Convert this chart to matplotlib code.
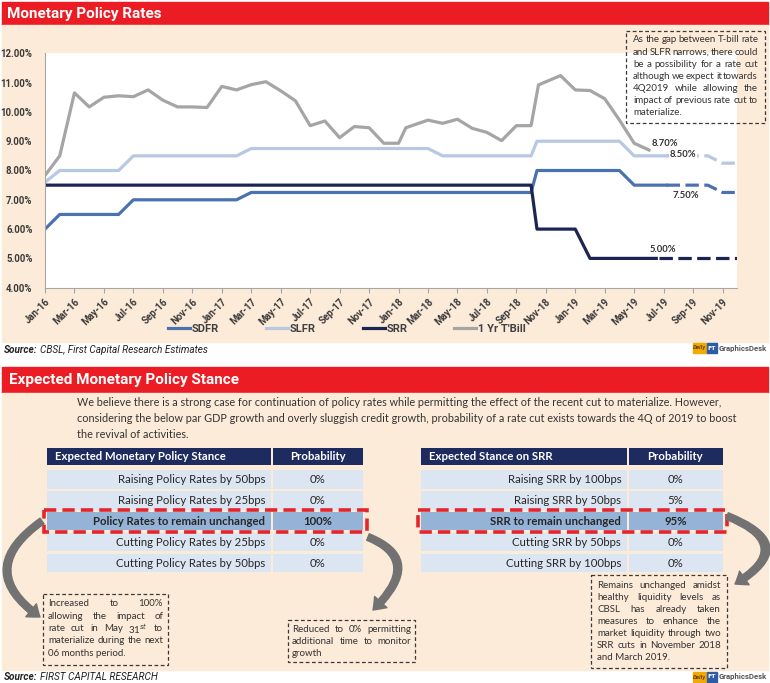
import numpy as np
import matplotlib
matplotlib.use("Agg")
import matplotlib.pyplot as plt
from matplotlib.patches import Rectangle, FancyArrowPatch
from matplotlib.path import Path
from matplotlib import font_manager

# fonts: a narrow face for the headings / axes, a humanist face for body text
fl = font_manager.fontManager.ttflist
names = {f.name for f in fl}
if any(f.name == 'Noto Sans' and f.stretch == 'condensed' for f in fl):
    NARROW, STR = 'Noto Sans', 'condensed'
else:
    NARROW, STR = ('Roboto' if 'Roboto' in names else 'DejaVu Sans'), 'normal'
BODY = 'Lato' if 'Lato' in names else 'DejaVu Sans'
NF = dict(family=NARROW, stretch=STR)

# ---- data (x = months since Jan-16) ----
tick_labels = ['Jan-16', 'Mar-16', 'May-16', 'Jul-16', 'Sep-16', 'Nov-16',
               'Jan-17', 'Mar-17', 'May-17', 'Jul-17', 'Sep-17', 'Nov-17',
               'Jan-18', 'Mar-18', 'May-18', 'Jul-18', 'Sep-18', 'Nov-18',
               'Jan-19', 'Mar-19', 'May-19', 'Jul-19', 'Sep-19', 'Nov-19']

sdfr_x = [0, 1, 5, 6, 13, 14, 33, 33.4, 39, 40, 42.2]
sdfr_y = [6.0, 6.5, 6.5, 7.0, 7.0, 7.25, 7.25, 8.0, 8.0, 7.5, 7.5]
sdfr_fx = [42.2, 45, 46, 47]
sdfr_fy = [7.5, 7.5, 7.25, 7.25]

slfr_x = [0, 1, 5, 6, 13, 14, 26, 27, 33, 33.4, 39, 40, 42.2]
slfr_y = [7.6, 8.0, 8.0, 8.5, 8.5, 8.75, 8.75, 8.5, 8.5, 9.0, 9.0, 8.5, 8.5]
slfr_fx = [42.2, 45, 46, 47]
slfr_fy = [8.5, 8.5, 8.25, 8.25]

srr_x = [0, 33, 33.4, 36, 37, 41.5]
srr_y = [7.5, 7.5, 6.0, 6.0, 5.0, 5.0]
srr_fx = [41.7, 47]
srr_fy = [5.0, 5.0]

tbill_x = [0, 1, 2, 3, 4, 5, 6, 7, 8, 9, 10, 11, 12, 13, 14, 15, 16, 17, 18, 19,
           20, 21, 22, 23, 24, 24.5, 26, 27, 28, 29, 30, 31, 32, 33, 33.5, 35,
           36, 37, 38, 39, 40, 41]
tbill_y = [7.83, 8.5, 10.65, 10.17, 10.5, 10.55, 10.52, 10.75, 10.4, 10.17,
           10.17, 10.15, 10.87, 10.75, 10.93, 11.03, 10.72, 10.38, 9.53, 9.69,
           9.12, 9.5, 9.46, 8.93, 8.93, 9.46, 9.72, 9.61, 9.75, 9.44, 9.3, 9.02,
           9.53, 9.53, 10.92, 11.24, 10.75, 10.73, 10.45, 9.72, 8.93, 8.7]

left_head = ['Expected Monetary Policy Stance', 'Probability']
left_rows = ['Raising Policy Rates by 50bps', 'Raising Policy Rates by 25bps',
             'Policy Rates to remain unchanged', 'Cutting Policy Rates by 25bps',
             'Cutting Policy Rates by 50bps']
left_prob = ['0%', '0%', '100%', '0%', '0%']

right_head = ['Expected Stance on SRR', 'Probability']
right_rows = ['Raising SRR by 100bps', 'Raising SRR by 50bps', 'SRR to remain unchanged',
              'Cutting SRR by 50bps', 'Cutting SRR by 100bps']
right_prob = ['0%', '5%', '95%', '0%', '0%']

intro = ['We believe there is a strong case for continuation of policy rates while permitting the effect of the recent cut to materialize. However,',
         'considering the below par GDP growth and overly sluggish credit growth, probability of a rate cut exists towards the 4Q of 2019 to boost',
         'the revival of activities.']
note_chart = ['As the gap between T-bill rate', 'and SLFR narrows, there could',
              'be a possibility for a rate cut', 'although we expect it towards',
              '4Q2019 while allowing the', 'impact of previous rate cut to', 'materialize.']
note_left = ['Increased to 100%', 'allowing the impact of', 'rate cut in May 31$^{st}$ to',
             'materialize during the next', '06 months period.']
note_mid = ['Reduced to 0% permitting', 'additional time to monitor', 'growth']
note_right = ['Remains unchanged amidst', 'healthy liquidity levels as', 'CBSL has already taken',
              'measures to enhance the', 'market liquidity through two', 'SRR cuts in November 2018',
              'and March 2019.']

RED = '#ec1c24'
BEIGE = '#fdebd9'
C_SDFR, C_SLFR, C_SRR, C_TB = '#4a72b0', '#b7c9e2', '#1b2452', '#a5a5a5'
TXT = '#333333'

W, H = 770, 683
fig = plt.figure(figsize=(W / 100, H / 100), dpi=100)
fig.patch.set_facecolor('white')
r = fig.canvas.get_renderer()


def frac(x0, y0, x1, y1):
    return [x0 / W, 1 - y1 / H, (x1 - x0) / W, (y1 - y0) / H]


# background layer in pixel units
bg = fig.add_axes([0, 0, 1, 1], zorder=0)
bg.set_xlim(0, W)
bg.set_ylim(H, 0)
bg.axis('off')
bg.add_patch(Rectangle((2, 2), 766, 23, color=RED))
bg.add_patch(Rectangle((2, 25), 766, 317, color=BEIGE))
bg.add_patch(Rectangle((2, 367), 766, 26, color=RED))
bg.add_patch(Rectangle((2, 393), 766, 277, color=BEIGE))
bg.text(7, 14, 'Monetary Policy Rates', color='white', fontsize=11, weight='bold',
        va='center', **NF)
bg.text(9, 380, 'Expected Monetary Policy Stance', color='white', fontsize=11, weight='bold',
        va='center', **NF)
for k, line in enumerate(intro):
    bg.text(77, 403 + k * 15.5, line, fontsize=7.8, family=BODY, color=TXT, va='center')


def source(y, rest):
    t = bg.text(4, y, 'Source:', fontsize=7.2, weight='bold', style='italic',
                color='#222222', va='center', **NF)
    w = t.get_window_extent(r).width
    bg.text(4 + w + 3, y, rest, fontsize=7.2, style='italic', color='#222222',
            va='center', **NF)


def logo(y):
    bg.add_patch(Rectangle((693, y - 5), 14, 10, color='#f2a900'))
    bg.text(700, y, 'Daily', fontsize=3.3, color='#6b3d00', ha='center', va='center',
            weight='bold', style='italic')
    bg.add_patch(Rectangle((707, y - 5), 10, 10, color='#2d5ca6'))
    bg.text(712, y, 'FT', fontsize=4.5, color='white', ha='center', va='center', weight='bold')
    bg.text(719, y, 'GraphicsDesk', fontsize=5.6, weight='bold', color='#555555',
            va='center', **NF)


source(350, 'CBSL, First Capital Research Estimates')
source(677, 'FIRST CAPITAL RESEARCH')
logo(348)
logo(677)

# ---- line chart ----
ax = fig.add_axes(frac(45, 53.3, 737.3, 287.7), zorder=1)
ax.set_facecolor('white')
lw = 2.3
dash = (0, (4.2, 1.7))
l1, = ax.plot(sdfr_x, sdfr_y, color=C_SDFR, lw=lw)
ax.plot(sdfr_fx, sdfr_fy, color=C_SDFR, lw=lw, ls=dash)
l2, = ax.plot(slfr_x, slfr_y, color=C_SLFR, lw=lw)
ax.plot(slfr_fx, slfr_fy, color=C_SLFR, lw=lw, ls=dash)
l3, = ax.plot(srr_x, srr_y, color=C_SRR, lw=lw)
ax.plot(srr_fx, srr_fy, color=C_SRR, lw=lw, ls=dash)
l4, = ax.plot(tbill_x, tbill_y, color=C_TB, lw=lw)

ax.set_xlim(0, 47)
ax.set_ylim(4, 12)
ax.set_yticks(np.arange(4, 12.5, 1))
ax.set_yticklabels([f'{v:.2f}%' for v in np.arange(4, 12.5, 1)])
ax.set_xticks(np.arange(0, 47, 2))
ax.set_xticklabels(tick_labels, rotation=45, ha='right', va='top', rotation_mode='anchor')
ax.tick_params(axis='x', length=3.5, color='#a6a6a6', width=0.8, pad=3)
ax.tick_params(axis='y', length=0, pad=9)
for lbl in ax.get_xticklabels() + ax.get_yticklabels():
    lbl.set_fontfamily(NARROW)
    lbl.set_fontstretch(STR)
    lbl.set_fontweight('bold')
    lbl.set_fontsize(6.9)
    lbl.set_color('#3a3a3a')
for s in ['top', 'right']:
    ax.spines[s].set_visible(False)
for s in ['left', 'bottom']:
    ax.spines[s].set_color('#a6a6a6')
    ax.spines[s].set_linewidth(0.8)

lab = dict(fontsize=6.8, family=BODY, weight='bold', color=TXT, va='center')
ax.text(41.2, 8.93, '8.70%', ha='left', **lab)
ax.text(43.3, 8.53, '8.50%', ha='center', bbox=dict(fc='white', ec='none', pad=0.6), **lab)
ax.text(43.5, 7.13, '7.50%', ha='center', **lab)
ax.text(41.95, 5.31, '5.00%', ha='center', **lab)

leg = fig.legend([l1, l2, l3, l4], ['SDFR', 'SLFR', 'SRR', "1 Yr T'Bill"], ncol=4,
                 loc='center', bbox_to_anchor=(347 / W, 1 - 329 / H), frameon=False,
                 handlelength=2.0, handletextpad=0.15, columnspacing=4.2,
                 prop=dict(family=NARROW, stretch=STR, weight='bold', size=8))
for t in leg.get_texts():
    t.set_color('#404040')


# ---- tables ----
def draw_table(x0, x1, split, head, rows, probs):
    n = len(rows)
    top = 479.5 - 20.9 * 1.55
    bot = 479.5 + 20.9 * (n - 0.45)
    ta = fig.add_axes(frac(x0, top, x1, bot), zorder=2)
    ta.set_xlim(0, 1)
    ta.set_ylim(n - 0.45, -1.55)
    ta.axis('off')
    vals = [int(p.rstrip('%')) for p in probs]
    hi = int(np.argmax(vals))
    idx = np.arange(n)
    fc = ['#95b3d7' if i == hi else '#dce6f2' for i in idx]
    g = 0.004
    ta.barh(idx, split - g, left=0, height=0.88, color=fc)
    ta.barh(idx, 1 - split - g, left=split + g, height=0.88, color=fc)
    ta.barh([-1.1, -1.1], [split - g, 1 - split - g], left=[0, split + g], height=0.82,
            color='#1e2b5f')
    hk = dict(color='white', weight='bold', fontsize=8.2, family=BODY, va='center')
    ta.text(0.025, -1.1, head[0], ha='left', **hk)
    ta.text((split + 1) / 2, -1.1, head[1], ha='center', **hk)
    for i in idx:
        wt = 'bold' if i == hi else 'normal'
        ta.text(split - 0.022, i, rows[i], ha='right', va='center', fontsize=8.2,
                family=BODY, color='#262626', weight=wt)
        ta.text((split + 1) / 2, i, probs[i], ha='center', va='center', fontsize=8.2,
                family=BODY, color='#262626', weight=wt)
    px = 3.5 / (x1 - x0)
    ta.add_patch(Rectangle((-px, hi - 0.52), 1 + 2 * px, 1.04, fill=False, ec='#e3262d',
                           lw=2.6, ls=(0, (3.4, 1.7)), clip_on=False, zorder=5))


draw_table(47, 363, 0.712, left_head, left_rows, left_prob)
draw_table(421, 723, 0.685, right_head, right_rows, right_prob)

# ---- overlay: callouts and arrows ----
ov = fig.add_axes([0, 0, 1, 1], zorder=3)
ov.set_xlim(0, W)
ov.set_ylim(H, 0)
ov.axis('off')


def justify(lines, x0, x1, y0, dy, size=7.0):
    kw = dict(fontsize=size, family=BODY, color=TXT, va='center')
    for k, line in enumerate(lines):
        y = y0 + k * dy
        words = line.split()
        if k == len(lines) - 1 or len(words) == 1:
            ov.text(x0, y, line, ha='left', **kw)
            continue
        ts = [ov.text(0, y, w, ha='left', **kw) for w in words]
        ws = [t.get_window_extent(r).width for t in ts]
        gap = (x1 - x0 - sum(ws)) / (len(words) - 1)
        x = x0
        for t, w in zip(ts, ws):
            t.set_x(x)
            x += w + gap


def box(x0, y0, x1, y1):
    ov.add_patch(Rectangle((x0, y0), x1 - x0, y1 - y0, fill=False, ec='#3a3a3a', lw=0.9,
                           ls=(0, (3, 2))))


box(626, 31, 765, 123)
justify(note_chart, 633, 758, 40, 12.1)
box(43, 594, 168, 665)
justify(note_left, 48, 163, 604, 12.3)
box(288, 620, 415, 662)
justify(note_mid, 292, 411, 629, 12)
box(591, 575, 727, 668)
justify(note_right, 597, 721, 586, 12)


def arrow(p0, c, p1):
    pth = Path([p0, c, p1], [Path.MOVETO, Path.CURVE3, Path.CURVE3])
    ov.add_patch(FancyArrowPatch(path=pth, arrowstyle='simple,head_length=8,head_width=12,tail_width=5',
                                 color='#727272', mutation_scale=1))


arrow((42, 521), (-27, 570), (40, 617))
arrow((368, 537), (425, 560), (373, 610))
arrow((727, 516), (800, 545), (735, 584))

fig.savefig('out.png', dpi=100, facecolor='white')
